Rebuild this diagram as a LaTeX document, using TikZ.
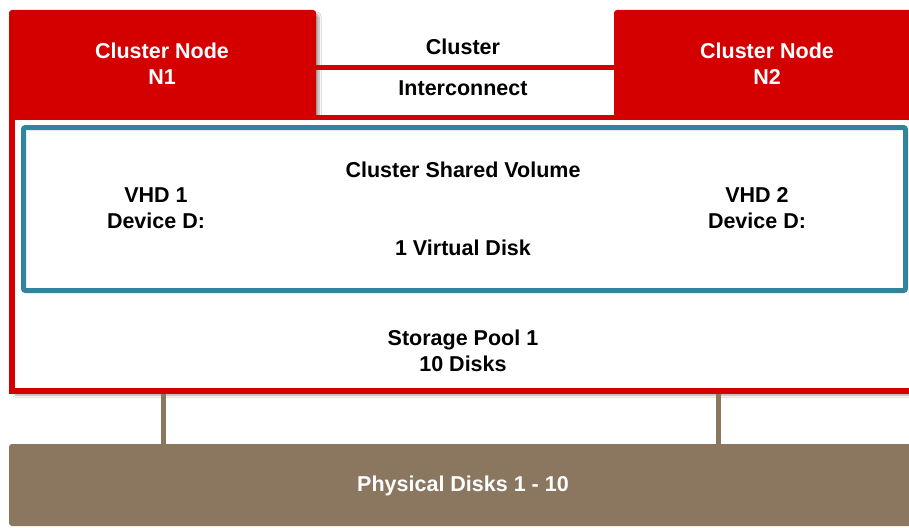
\documentclass[tikz,border=0pt]{standalone}
\usepackage{fontspec}
\setmainfont{Liberation Sans}
\usetikzlibrary{shadows.blur}
\definecolor{cred}{HTML}{D40000}
\definecolor{cteal}{HTML}{31849B}
\definecolor{cbrown}{HTML}{8B7760}
\tikzset{
  lbl/.style={font=\bfseries\fontsize{21.5}{26}\selectfont, align=center, inner sep=0pt, text=black},
  wlbl/.style={lbl, text=white},
  shd/.style={blur shadow={shadow xshift=3pt, shadow yshift=-4pt, shadow blur steps=6, shadow opacity=35}},
  link/.style={draw=cbrown, line width=5pt},
}
\begin{document}
\begin{tikzpicture}[x=1pt,y=-1pt]
\useasboundingbox (0,0) rectangle (909,527);
\fill[white] (0,0) rectangle (909,527);
% cluster nodes
\path[fill=cred, rounded corners=3pt, shd] (9,10) rectangle (316,122);
\path[fill=cred, rounded corners=3pt, shd] (614,10) rectangle (930,122);
\node[wlbl] (n1) at (162,63.5) {Cluster Node\\N1};
\node[wlbl] (n2) at (767,63.5) {Cluster Node\\N2};
% storage pool box
\path[draw=cred, fill=white, line width=5.5pt, shd] (12,117.5) rectangle (930,391);
% interconnect
\coordinate (ic1) at (316,67);
\coordinate (ic2) at (614,67);
\draw[cred, line width=5pt] (ic1) -- (ic2);
\node[lbl] (icA) at (463,47) {Cluster};
\node[lbl] (icB) at (463,88) {Interconnect};
% CSV box
\draw[cteal, line width=5pt, rounded corners=2pt] (23.5,127.5) rectangle (905.5,290.5);
\node[lbl] (csv) at (463,169.5) {Cluster Shared Volume};
\node[lbl] (vhd1) at (156,208.5) {VHD 1\\Device D:};
\node[lbl] (vhd2) at (757,208.5) {VHD 2\\Device D:};
\node[lbl] (vd) at (463,247.5) {1 Virtual Disk};
\node[lbl] (pool) at (463,351) {Storage Pool 1\\10 Disks};
% physical disks
\path[fill=cbrown, rounded corners=3pt] (9,444) rectangle (930,526);
\node[wlbl] (phys) at (463,486) {Physical Disks 1 - 10};
% links
\coordinate (l1a) at (163,394);
\coordinate (l1b) at (163,444);
\coordinate (l2a) at (718,394);
\coordinate (l2b) at (718,444);
\draw[link] (l1a) -- (l1b);
\draw[link] (l2a) -- (l2b);
\end{tikzpicture}
\end{document}
